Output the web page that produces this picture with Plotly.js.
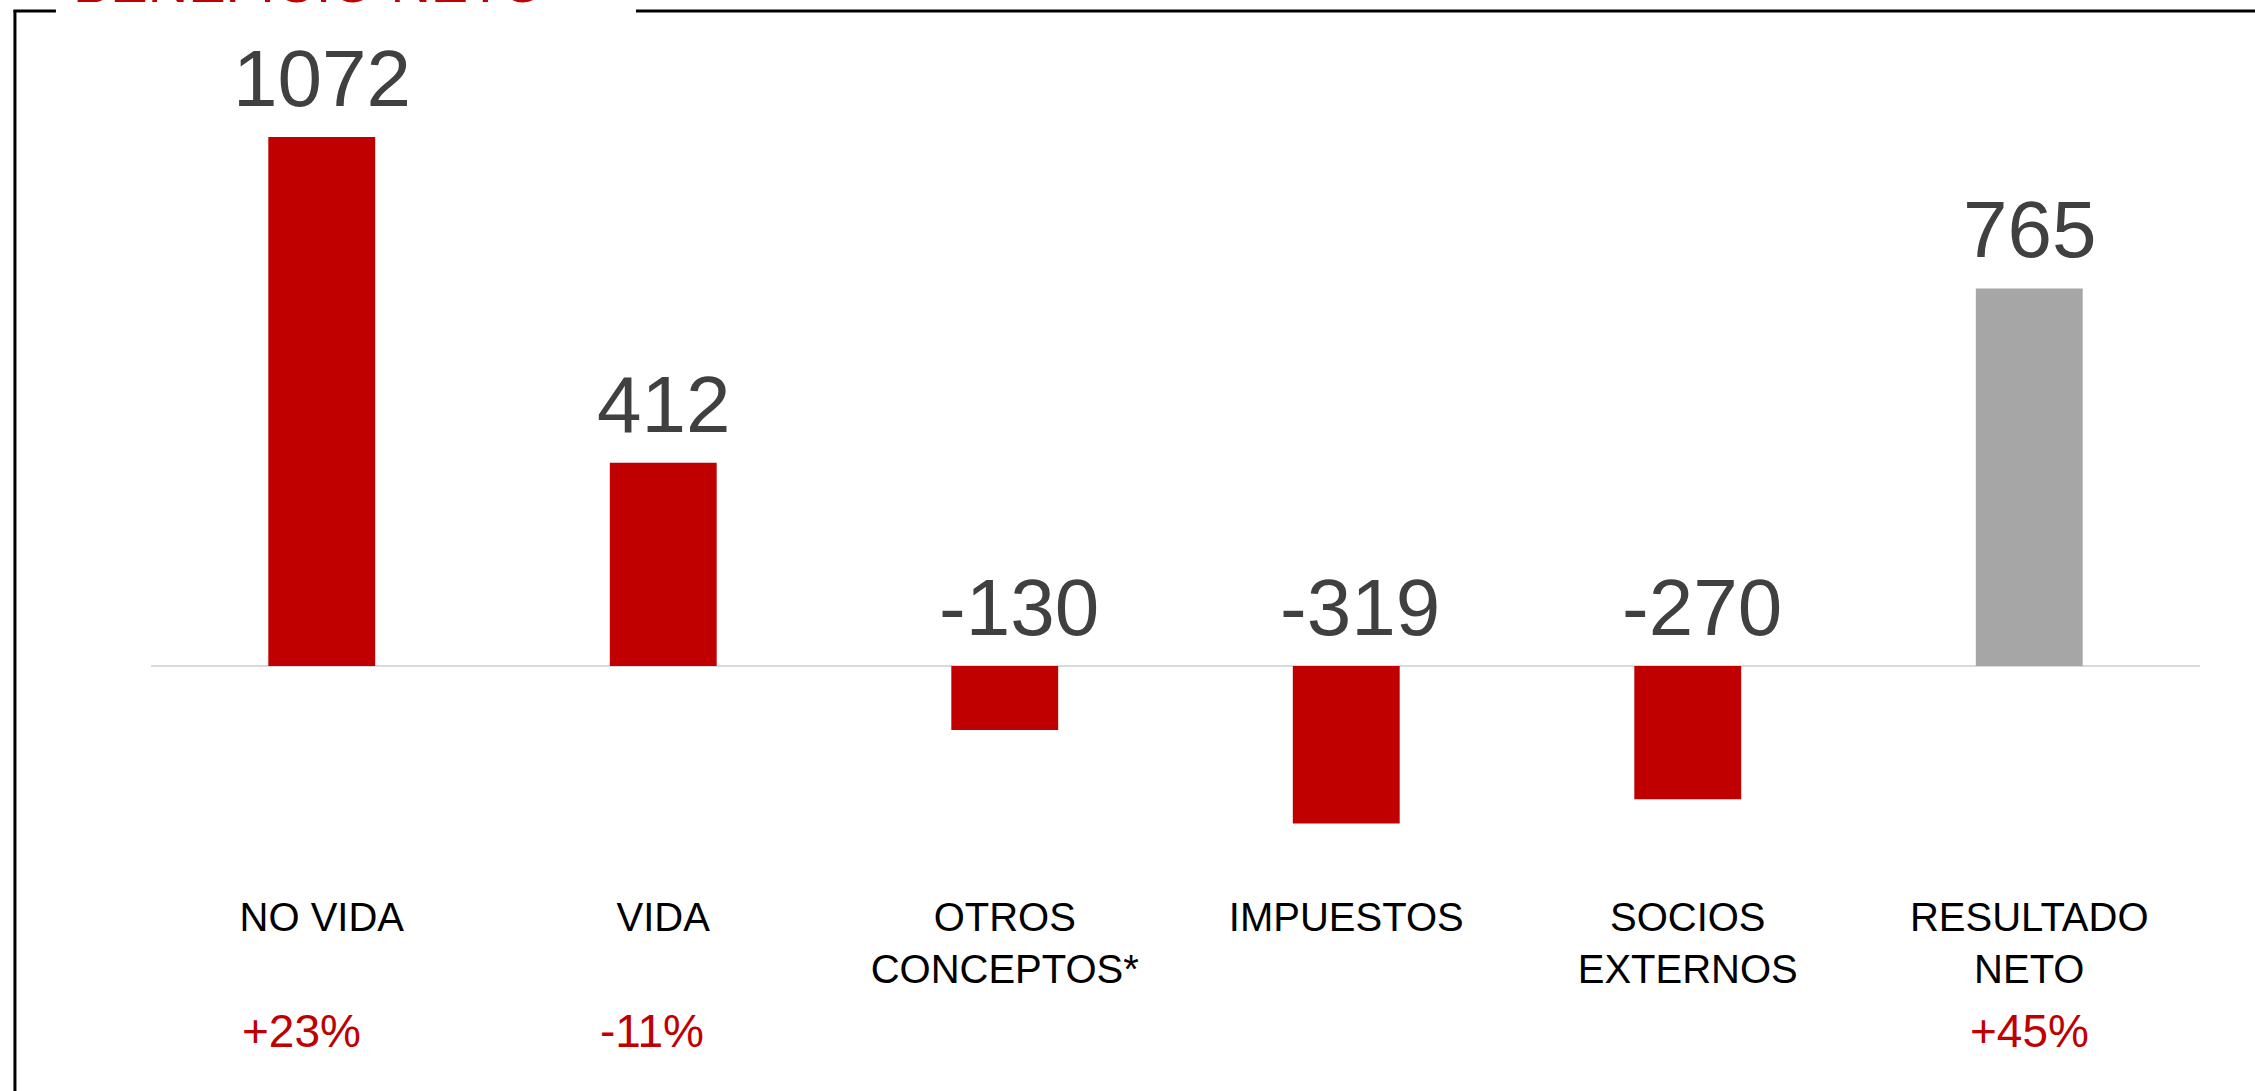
<!DOCTYPE html>
<html>
<head>
<meta charset="utf-8">
<script src="https://cdn.plot.ly/plotly-3.0.1.min.js"></script>
<style>
  html, body { margin: 0; padding: 0; background: #ffffff; }
  #chart { width: 2255px; height: 1091px; }
</style>
</head>
<body>
<div id="chart"></div>
<script>
// ---- data ----
const categories = ['NO VIDA', 'VIDA', 'OTROS<br>CONCEPTOS*', 'IMPUESTOS', 'SOCIOS<br>EXTERNOS', 'RESULTADO<br>NETO'];
const values = [1072, 412, -130, -319, -270, 765];
const valueLabels = ['1072', '412', '-130', '-319', '-270', '765'];
const changeLabels = ['+23%', '-11%', '', '', '', '+45%'];
const titleText = 'BENEFICIO NETO';

// ---- styles ----
const RED = '#c00000';
const GREY = '#a6a6a6';
const FONT = '"Liberation Sans", Arial, sans-serif';
const barColors = categories.map((c, i) => i === categories.length - 1 ? GREY : RED);
const pctShift = [-20, -11, 0, 0, 0, 0];

const trace = {
  type: 'bar',
  x: categories,
  y: values,
  marker: { color: barColors, line: { width: 0 } },
  hoverinfo: 'skip',
  showlegend: false
};

const annotations = [];
values.forEach((v, i) => {
  annotations.push({
    x: categories[i], y: Math.max(v, 0), xref: 'x', yref: 'y',
    text: valueLabels[i], showarrow: false,
    xanchor: 'center', yanchor: 'bottom', yshift: 12, xshift: v < 0 ? 14 : 0,
    font: { family: FONT, size: 80, color: '#404040' }
  });
  if (changeLabels[i]) {
    annotations.push({
      x: categories[i], y: -0.2036, xref: 'x', yref: 'paper',
      text: changeLabels[i], showarrow: false,
      xanchor: 'center', yanchor: 'bottom', xshift: pctShift[i],
      font: { family: FONT, size: 46, color: RED }
    });
  }
});
annotations.push({
  x: 0.0773, y: 1.0536, xref: 'paper', yref: 'paper',
  text: titleText, showarrow: false, xanchor: 'center', yanchor: 'bottom',
  font: { family: FONT, size: 56, color: RED }
});

const lineStyle = { color: '#000000', width: 3 };
const shapes = [
  { type: 'line', xref: 'paper', yref: 'paper', x0: -0.0664, x1: -0.0664, y0: 1.0602, y1: -0.3, line: lineStyle },
  { type: 'line', xref: 'paper', yref: 'paper', x0: -0.0671, x1: -0.0464, y0: 1.0590, y1: 1.0590, line: lineStyle },
  { type: 'line', xref: 'paper', yref: 'paper', x0: 0.2367, x1: 1.05, y0: 1.0590, y1: 1.0590, line: lineStyle }
];

const layout = {
  width: 2255, height: 1091,
  margin: { l: 151, r: 55, t: 60, b: 201, pad: 0 },
  paper_bgcolor: '#ffffff', plot_bgcolor: '#ffffff',
  bargap: 0.687,
  showlegend: false,
  xaxis: {
    type: 'category',
    showgrid: false, showline: false, zeroline: false,
    ticks: '', ticklen: 0,
    tickfont: { family: FONT, size: 40, color: '#000000' },
    fixedrange: true
  },
  yaxis: {
    range: [-454, 1228],
    showgrid: false, showline: false, showticklabels: false, ticks: '',
    zeroline: true, zerolinecolor: '#d9d9d9', zerolinewidth: 2,
    fixedrange: true
  },
  annotations: annotations,
  shapes: shapes
};

Plotly.newPlot('chart', [trace], layout, { displayModeBar: false, staticPlot: true });
</script>
</body>
</html>
